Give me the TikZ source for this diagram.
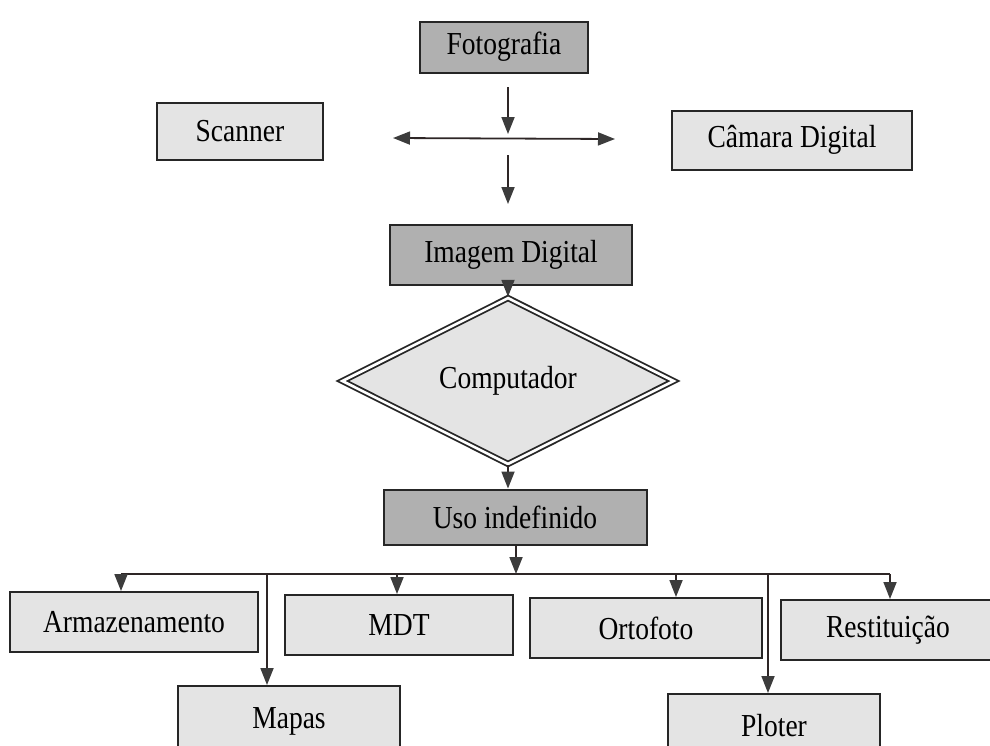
\documentclass[tikz,border=0pt]{standalone}
\usepackage{fontspec}
\setmainfont{Liberation Serif}
\usetikzlibrary{arrows.meta,shapes.geometric}
\definecolor{darkfill}{HTML}{B0B0B0}
\definecolor{lightfill}{HTML}{E4E4E4}
\definecolor{linecol}{HTML}{2E2626}
\definecolor{headcol}{HTML}{3C3C3C}
\newcommand{\cnd}[1]{\scalebox{0.86}[1]{\fontsize{32}{34}\selectfont #1}}
\begin{document}
\begin{tikzpicture}[x=1pt,y=-1pt,
  box/.style={draw=black!85,line width=2pt,inner sep=0pt},
  darkbox/.style={box,fill=darkfill},
  lightbox/.style={box,fill=lightfill},
  tip/.style={},
  arr/.style={draw=linecol,line width=1.8pt,-{Triangle[length=17pt,width=13pt,fill=headcol,color=headcol]}},
  dblarr/.style={draw=linecol,line width=1.8pt,{Triangle[length=17pt,width=13pt,fill=headcol,color=headcol]}-{Triangle[length=17pt,width=13pt,fill=headcol,color=headcol]}},
  ln/.style={draw=linecol,line width=1.8pt}]
\useasboundingbox (0,0) rectangle (990,745);
% top part
\node[darkbox,minimum width=168pt,minimum height=51pt] (foto) at (504,47) {\cnd{Fotografia}};
\node[lightbox,minimum width=166pt,minimum height=57pt] (scan) at (240,131) {\cnd{Scanner}};
\node[lightbox,minimum width=240pt,minimum height=59pt] (cam) at (792,140) {\cnd{Câmara Digital}};
\coordinate (jl) at (393,138);
\coordinate (jr) at (615,139);
\coordinate (jc) at (508,134);
\coordinate (ft) at (508,87);
\coordinate (d1) at (508,155);
\coordinate (d2) at (508,204);
\draw[arr] (ft) -- (jc);
\draw[dblarr] (jl) -- (jr);
\draw[arr] (d1) -- (d2);
\node[darkbox,minimum width=242pt,minimum height=60pt] (img) at (511,255) {\cnd{Imagem Digital}};
\node[diamond,draw=black!85,line width=1.8pt,double=white,double distance=2.6pt,fill=lightfill,
  minimum width=332pt,minimum height=144pt,inner sep=0pt] (comp) at (508,381) {\cnd{Computador}};
\draw[arr] (img.south -| comp.north) -- (comp.north);
\node[darkbox,minimum width=263pt,minimum height=55pt] (uso) at (515,517) {\cnd{Uso indefinido}};
\draw[arr] (comp.south) -- (uso.north -| comp.south);
% bottom tree
\node[lightbox,minimum width=248pt,minimum height=60pt] (arm) at (134,622) {\cnd{Armazenamento}};
\node[lightbox,minimum width=228pt,minimum height=60pt] (mdt) at (399,625) {\cnd{MDT}};
\node[lightbox,minimum width=232pt,minimum height=60pt] (orto) at (646,628) {\cnd{Ortofoto}};
\node[lightbox,minimum width=214pt,minimum height=60pt] (rest) at (888,630) {\cnd{Restituição}};
\node[lightbox,minimum width=222pt,minimum height=70pt] (mapas) at (289,721) {\cnd{Mapas}};
\node[lightbox,minimum width=212pt,minimum height=64pt] (plot) at (774,726) {\cnd{Ploter}};
\coordinate (b1) at (121,574);
\coordinate (b2) at (267,574);
\coordinate (b3) at (397,574);
\coordinate (bc) at (516,574);
\coordinate (b4) at (676,574);
\coordinate (b5) at (768,574);
\coordinate (b6) at (890,574);
\draw[ln] (b1) -- (b6);
\draw[arr] (uso.south -| bc) -- (bc);
\draw[arr] (b1) -- (arm.north -| b1);
\draw[arr] (b2) -- (mapas.north -| b2);
\draw[arr] (b3) -- (mdt.north -| b3);
\draw[arr] (b4) -- (orto.north -| b4);
\draw[arr] (b5) -- (plot.north -| b5);
\draw[arr] (b6) -- (rest.north -| b6);
\end{tikzpicture}
\end{document}
